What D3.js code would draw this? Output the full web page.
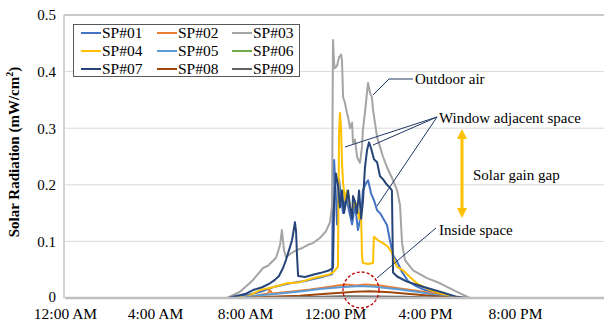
<!DOCTYPE html>
<html><head><meta charset="utf-8">
<script src="https://cdn.jsdelivr.net/npm/d3@7"></script>
<style>
body{margin:0;background:#fff}
svg{display:block}
text{font-family:"Liberation Serif","Times New Roman",serif;fill:#000}
</style>
</head><body>
<svg id="c" width="604" height="325"></svg>
<script>
// ---- data (hour of day, solar radiation mW/cm2) ----
const seriesNames = ["SP#01","SP#02","SP#03","SP#04","SP#05","SP#06","SP#07","SP#08","SP#09"];
const seriesColors = ["#4472C4","#ED7D31","#A5A5A5","#FFC000","#5B9BD5","#70AD47","#264478","#9E480E","#636363"];

const sp01 = [[0,0],[7.3,0],[8.0,0.004],[8.76,0.012],[9.33,0.02],[10.0,0.026],[10.67,0.03],[11.33,0.036],[11.87,0.042],[11.91,0.235],[11.96,0.244],[12.04,0.18],[12.09,0.13],[12.18,0.21],[12.27,0.175],[12.36,0.15],[12.49,0.18],[12.62,0.155],[12.76,0.13],[12.89,0.165],[13.02,0.12],[13.16,0.147],[13.24,0.19],[13.38,0.203],[13.47,0.208],[13.6,0.185],[13.73,0.173],[13.87,0.155],[14.0,0.15],[14.18,0.138],[14.31,0.129],[14.44,0.102],[14.58,0.076],[14.76,0.064],[14.98,0.046],[15.24,0.03],[15.6,0.021],[16.0,0.014],[16.67,0.007],[17.33,0.002],[17.64,0],[24,0]];
const sp02 = [[0,0],[7.56,0],[8.44,0.004],[9.02,0.008],[9.11,0.014],[9.2,0.008],[10.0,0.011],[10.89,0.015],[11.78,0.02],[12.44,0.024],[12.98,0.022],[13.33,0.024],[14.0,0.022],[14.89,0.017],[15.78,0.012],[16.67,0.006],[17.33,0.002],[17.78,0],[24,0]];
const sp03 = [[0,0],[7.2,0],[7.78,0.011],[8.36,0.032],[8.8,0.053],[9.02,0.057],[9.2,0.064],[9.38,0.071],[9.56,0.094],[9.64,0.12],[9.73,0.085],[9.82,0.072],[10.09,0.08],[10.31,0.085],[10.53,0.088],[10.8,0.094],[11.02,0.097],[11.33,0.106],[11.6,0.118],[11.78,0.134],[11.87,0.164],[11.91,0.456],[11.96,0.415],[12.0,0.406],[12.09,0.41],[12.18,0.425],[12.27,0.43],[12.31,0.42],[12.36,0.355],[12.44,0.345],[12.53,0.327],[12.58,0.32],[12.67,0.3],[12.76,0.31],[12.8,0.274],[12.89,0.28],[12.98,0.25],[13.02,0.245],[13.11,0.239],[13.2,0.267],[13.24,0.297],[13.33,0.327],[13.42,0.362],[13.47,0.38],[13.56,0.362],[13.64,0.355],[13.69,0.332],[13.78,0.309],[13.87,0.284],[14.0,0.267],[14.13,0.25],[14.31,0.231],[14.44,0.22],[14.58,0.208],[14.76,0.19],[14.89,0.164],[14.98,0.097],[15.11,0.067],[15.47,0.049],[16.09,0.035],[16.67,0.026],[17.42,0.011],[18.0,0],[24,0]];
const sp04 = [[0,0],[7.6,0],[8.09,0.002],[8.67,0.014],[9.24,0.019],[9.87,0.026],[10.44,0.028],[11.02,0.035],[11.69,0.041],[11.91,0.045],[12.13,0.055],[12.18,0.29],[12.22,0.327],[12.27,0.3],[12.31,0.24],[12.36,0.203],[12.44,0.173],[12.53,0.19],[12.58,0.186],[12.67,0.16],[12.76,0.155],[12.89,0.17],[12.98,0.161],[13.07,0.14],[13.11,0.15],[13.16,0.148],[13.2,0.075],[13.24,0.062],[13.47,0.06],[13.69,0.062],[13.73,0.108],[13.91,0.102],[14.13,0.097],[14.36,0.09],[14.53,0.08],[14.67,0.062],[14.76,0.055],[15.02,0.049],[15.33,0.037],[15.64,0.026],[16.22,0.014],[16.98,0.005],[17.42,0],[24,0]];
const sp05 = [[0,0],[7.78,0],[8.67,0.005],[9.56,0.008],[10.53,0.012],[11.33,0.016],[12.22,0.019],[13.11,0.021],[13.78,0.02],[14.89,0.015],[15.78,0.01],[16.67,0.004],[17.42,0],[24,0]];
const sp06 = [[0,0],[8.0,0],[10.0,0.001],[12.5,0.002],[15.0,0.001],[17.0,0],[24,0]];
const sp07 = [[0,0],[7.24,0],[8.0,0.007],[8.36,0.014],[8.76,0.019],[9.11,0.026],[9.33,0.032],[9.51,0.039],[9.69,0.053],[9.82,0.067],[9.96,0.085],[10.09,0.102],[10.18,0.124],[10.22,0.134],[10.27,0.117],[10.31,0.076],[10.36,0.039],[10.67,0.037],[11.02,0.041],[11.33,0.044],[11.69,0.048],[11.91,0.053],[11.96,0.17],[12.04,0.22],[12.13,0.2],[12.22,0.16],[12.31,0.19],[12.4,0.15],[12.49,0.17],[12.58,0.19],[12.67,0.16],[12.76,0.14],[12.8,0.18],[12.89,0.17],[12.98,0.15],[13.07,0.19],[13.16,0.14],[13.24,0.17],[13.33,0.23],[13.42,0.26],[13.51,0.275],[13.6,0.265],[13.73,0.245],[13.87,0.24],[14.0,0.215],[14.13,0.21],[14.31,0.2],[14.44,0.195],[14.53,0.19],[14.58,0.045],[14.76,0.038],[15.2,0.029],[15.91,0.02],[16.67,0.011],[17.42,0.002],[17.87,0],[24,0]];
const sp08 = [[0,0],[8.0,0],[9.11,0.002],[10.44,0.004],[11.78,0.008],[12.89,0.011],[13.56,0.012],[14.44,0.01],[15.33,0.007],[16.22,0.004],[17.11,0.001],[17.56,0],[24,0]];
const sp09 = [[0,0],[8.0,0],[10.0,0.001],[12.5,0.003],[15.0,0.002],[17.2,0],[24,0]];
const seriesData = [sp01,sp02,sp03,sp04,sp05,sp06,sp07,sp08,sp09];

const xTickHours = [0,4,8,12,16,20];
const xTickLabels = ["12:00 AM","4:00 AM","8:00 AM","12:00 PM","4:00 PM","8:00 PM"];
const yTickValues = [0,0.1,0.2,0.3,0.4,0.5];
const yTickLabels = ["0","0.1","0.2","0.3","0.4","0.5"];

// ---- drawing ----
const svg = d3.select("#c");
const x = d3.scaleLinear().domain([0,24]).range([65,605]);
const y = d3.scaleLinear().domain([0,0.5]).range([298,15]);

// gridlines
svg.append("g").selectAll("line").data(yTickValues.slice(1)).join("line")
  .attr("x1",x(0)).attr("x2",x(24)).attr("y1",d=>y(d)).attr("y2",d=>y(d))
  .attr("stroke","#D9D9D9").attr("stroke-width",1);

// plot border
svg.append("path").attr("d",`M${x(24)+2},${y(0.5)}H${x(0)-1}V${y(0)}`)
  .attr("fill","none").attr("stroke","#A6A6A6").attr("stroke-width",1);

svg.append("clipPath").attr("id","clip").append("rect")
  .attr("x",x(0)).attr("y",y(0.5)-2).attr("width",x(24)-x(0)).attr("height",y(0)-y(0.5)+4);

const line = d3.line().x(d=>x(d[0])).y(d=>y(d[1]));
const gLines = svg.append("g").attr("clip-path","url(#clip)");
seriesData.forEach((s,i)=>{
  gLines.append("path").datum(s).attr("d",line)
    .attr("fill","none").attr("stroke",seriesColors[i]).attr("stroke-width",2)
    .attr("stroke-linejoin","round");
});

// horizontal axis line
svg.append("line").attr("x1",x(0)).attr("x2",x(24)).attr("y1",y(0)).attr("y2",y(0))
  .attr("stroke","#BFBFBF").attr("stroke-width",2.5);

// x axis labels
const xAxis = d3.axisBottom(x).tickValues(xTickHours).tickSize(0).tickPadding(10)
  .tickFormat((d,i)=>xTickLabels[i]);
const gx = svg.append("g").attr("transform",`translate(0,${y(0)})`).call(xAxis);
gx.select(".domain").remove();
gx.selectAll("text").style("font-family",'"Liberation Serif","Times New Roman",serif')
  .style("font-size","15.5px").attr("fill","#000");

// y axis labels
const yAxis = d3.axisLeft(y).tickValues(yTickValues).tickSize(0).tickPadding(9)
  .tickFormat((d,i)=>yTickLabels[i]);
const gy = svg.append("g").attr("transform",`translate(${x(0)},0)`).call(yAxis);
gy.select(".domain").remove();
gy.selectAll("text").style("font-family",'"Liberation Serif","Times New Roman",serif')
  .style("font-size","15px").attr("fill","#000");
gy.selectAll(".tick").filter(d=>d===0).select("text").attr("dy","0.2em");

// y title
const yt = svg.append("text").attr("transform","translate(19,152) rotate(-90)")
  .attr("text-anchor","middle").style("font-size","15px").style("font-weight","bold");
yt.append("tspan").text("Solar Radiation (mW/cm");
yt.append("tspan").attr("dy",-6).style("font-size","10px").text("2");
yt.append("tspan").attr("dy",6).text(")");

// legend
const lg = svg.append("g");
lg.append("rect").attr("x",73.5).attr("y",24.5).attr("width",226).attr("height",52)
  .attr("fill","#fff").attr("stroke","#595959").attr("stroke-width",1);
const colX = [81,157,232], rowY = [33,51,69];
seriesNames.forEach((n,i)=>{
  const cx = colX[i%3], cy = rowY[Math.floor(i/3)];
  lg.append("line").attr("x1",cx).attr("x2",cx+20).attr("y1",cy).attr("y2",cy)
    .attr("stroke",seriesColors[i]).attr("stroke-width",2);
  lg.append("text").attr("x",cx+21).attr("y",cy).attr("dy","0.35em")
    .style("font-size","15.5px").text(n);
});

// annotations
const ann = svg.append("g").attr("stroke","#203864").attr("stroke-width",1).attr("fill","none");
ann.append("path").attr("d","M413,79H389L373,95");
ann.append("path").attr("d","M437,117L345,147");
ann.append("path").attr("d","M437,117L373,145");
ann.append("path").attr("d","M437,117L377,206");
ann.append("path").attr("d","M436,228L377,278");

svg.append("circle").attr("cx",361).attr("cy",290).attr("r",18)
  .attr("fill","none").attr("stroke","#C00000").attr("stroke-width",1.3)
  .attr("stroke-dasharray","3,2");

svg.append("text").attr("x",415).attr("y",79).attr("dy","0.35em").style("font-size","15px").text("Outdoor air");
svg.append("text").attr("x",439).attr("y",118).attr("dy","0.35em").style("font-size","15px").text("Window adjacent space");
svg.append("text").attr("x",473).attr("y",175).attr("dy","0.35em").style("font-size","15px").text("Solar gain gap");
svg.append("text").attr("x",439).attr("y",230).attr("dy","0.35em").style("font-size","15px").text("Inside space");

// gap arrow
const gold = "#FFC000";
svg.append("line").attr("x1",462).attr("x2",462).attr("y1",137).attr("y2",210)
  .attr("stroke",gold).attr("stroke-width",3);
svg.append("path").attr("d","M462,129L457,139H467Z").attr("fill",gold);
svg.append("path").attr("d","M462,218L457,208H467Z").attr("fill",gold);
</script>
</body></html>
